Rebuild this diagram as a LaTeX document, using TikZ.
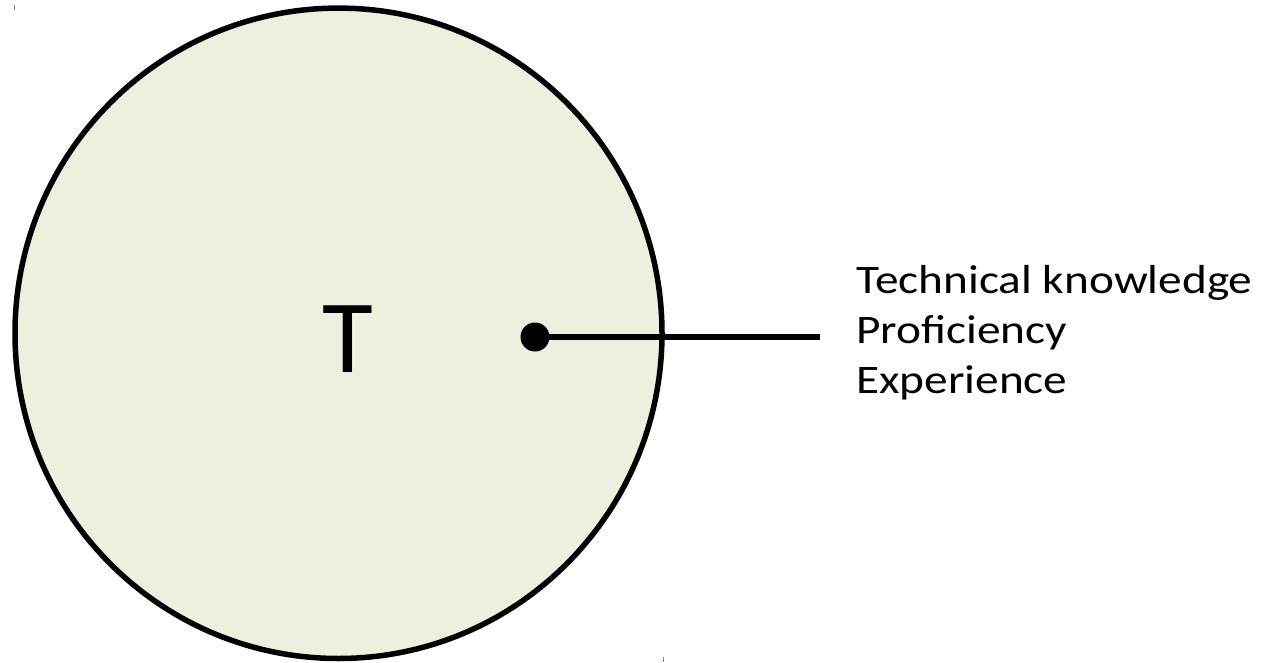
\documentclass[tikz,border=0pt]{standalone}
\usepackage{fontspec}
\usetikzlibrary{shapes.geometric}
\setmainfont{Carlito}
\newfontfamily\widefont[FakeStretch=1.168]{Carlito}
\definecolor{circfill}{HTML}{EBF1DE}
\begin{document}
\begin{tikzpicture}[x=1pt,y=-1pt,
  bigcirc/.style={ellipse,draw=black,line width=5.5pt,fill=circfill,inner sep=0pt},
  dotmark/.style={circle,fill=black,inner sep=0pt,minimum size=29pt},
  link/.style={line width=6pt},
  tick/.style={draw=gray,line width=1pt}]
\useasboundingbox (0,0) rectangle (1274,663);
\node[bigcirc,minimum width=647pt,minimum height=650.4pt] (c) at (338.5,333.3) {};
\node[anchor=base,inner sep=0pt,font=\fontsize{104}{110}\selectfont] (t) at (347.7,372.7) {T};
\node[dotmark] (d) at (535,337) {};
\coordinate (e) at (820,337);
\draw[link] (d.center) -- (e);
\node[anchor=base west,inner sep=0pt,align=left,font=\widefont\fontsize{40.5}{49.8}\selectfont] (lbl) at (856,393) {Technical knowledge\\Proficiency\\Experience};
\draw[tick] (14.5,5) -- (14.5,10);
\draw[tick] (663.5,657) -- (663.5,662);
\end{tikzpicture}
\end{document}
